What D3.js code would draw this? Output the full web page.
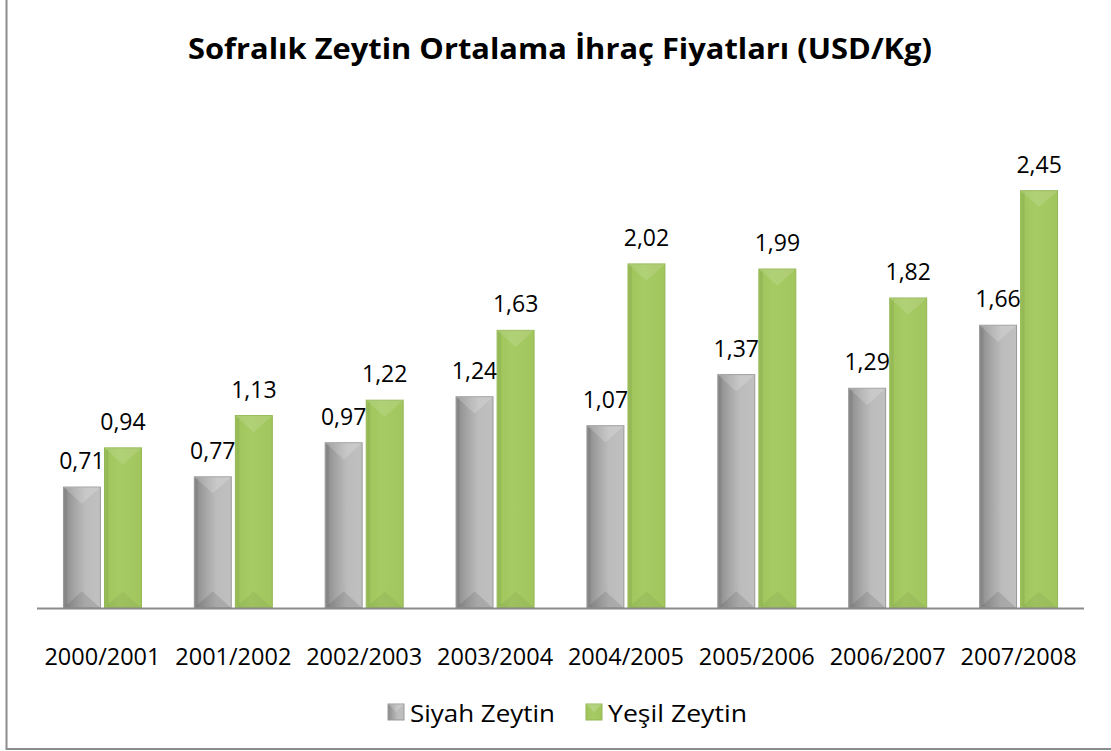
<!DOCTYPE html>
<html>
<head>
<meta charset="utf-8">
<script src="https://cdn.jsdelivr.net/npm/d3@7"></script>
<style>
  body { margin: 0; background: #fff; }
  text { font-family: "Open Sans", "Noto Sans", sans-serif; fill: #000; }
</style>
</head>
<body>
<script>
let years = ["2000/2001", "2001/2002", "2002/2003", "2003/2004", "2004/2005", "2005/2006", "2006/2007", "2007/2008"];
let siyah = [0.71, 0.77, 0.97, 1.24, 1.07, 1.37, 1.29, 1.66];
let yesil = [0.94, 1.13, 1.22, 1.63, 2.02, 1.99, 1.82, 2.45];
let seriesNames = ["Siyah Zeytin", "Yeşil Zeytin"];

let W = 1111, H = 751;
let svg = d3.select("body").append("svg")
    .attr("width", W)
    .attr("height", H);

let defs = svg.append("defs");
// gradients for the beveled bars
let gGray = defs.append("linearGradient").attr("id", "gGray");
gGray.append("stop").attr("offset", "0%").attr("stop-color", "#8a8a8a");
gGray.append("stop").attr("offset", "35%").attr("stop-color", "#a9a9a9");
gGray.append("stop").attr("offset", "60%").attr("stop-color", "#bcbcbc");
gGray.append("stop").attr("offset", "100%").attr("stop-color", "#c0c0c0");
let gGreen = defs.append("linearGradient").attr("id", "gGreen");
gGreen.append("stop").attr("offset", "0%").attr("stop-color", "#9dc45a");
gGreen.append("stop").attr("offset", "40%").attr("stop-color", "#a7cb64");
gGreen.append("stop").attr("offset", "100%").attr("stop-color", "#a2c65e");

let colors = ["url(#gGray)", "url(#gGreen)"];
let edges = ["#999999", "#94b654"];

// frame
svg.append("rect")
    .attr("x", 6.5).attr("y", -5)
    .attr("width", 1110).attr("height", 754)
    .attr("fill", "none")
    .attr("stroke", "#8c8c8c")
    .attr("stroke-width", 2);

svg.append("text")
    .attr("x", 560).attr("y", 59)
    .attr("text-anchor", "middle")
    .attr("font-size", 29)
    .attr("font-weight", "bold")
    .attr("textLength", 744)
    .attr("lengthAdjust", "spacingAndGlyphs")
    .text("Sofralık Zeytin Ortalama İhraç Fiyatları (USD/Kg)");

let x0 = d3.scaleBand().domain(years).range([37, 1084]);
let x1 = d3.scaleBand().domain([0, 1]).range([0, 78]).paddingInner(0.1);
let y = d3.scaleLinear().domain([0, 3]).range([608, 97]);

let groups = svg.selectAll("g.cat")
    .data(years)
    .enter().append("g")
    .attr("class", "cat")
    .attr("transform", d => `translate(${x0(d) + (x0.bandwidth() - 78) / 2},0)`);

let bars = groups.selectAll("g.bar")
    .data((d, i) => [siyah[i], yesil[i]])
    .enter().append("g")
    .attr("class", "bar");

bars.each(function(v, s) {
    let g = d3.select(this);
    let bx = x1(s), bw = x1.bandwidth();
    let top = y(v), bot = y(0);
    let b = bw / 2;
    g.append("rect")
        .attr("x", bx).attr("y", top)
        .attr("width", bw).attr("height", bot - top)
        .attr("fill", colors[s])
        .attr("stroke", edges[s])
        .attr("stroke-width", 1);
    // top bevel
    g.append("path")
        .attr("d", `M${bx},${top}L${bx + bw},${top}L${bx + bw - b},${top + b * 0.9}L${bx + b},${top + b * 0.9}Z`)
        .attr("fill", "#ffffff").attr("opacity", s === 0 ? 0.18 : 0.12);
    // bottom bevel
    g.append("path")
        .attr("d", `M${bx},${bot}L${bx + bw},${bot}L${bx + bw - b},${bot - b * 0.9}L${bx + b},${bot - b * 0.9}Z`)
        .attr("fill", "#000000").attr("opacity", s === 0 ? 0.1 : 0.05);
    // left edge shade
    g.append("rect")
        .attr("x", bx + 1).attr("y", top + 2)
        .attr("width", 3).attr("height", Math.max(0, bot - top - 4))
        .attr("fill", "#000").attr("opacity", 0.06);
    g.append("text")
        .attr("x", bx + bw / 2).attr("y", top - 18)
        .attr("text-anchor", "middle")
        .attr("font-size", 23)
        .text(d3.format(".2f")(v).replace(".", ","));
});

// axis baseline
svg.append("line")
    .attr("x1", 37).attr("x2", 1084)
    .attr("y1", 608.5).attr("y2", 608.5)
    .attr("stroke", "#8c8c8c").attr("stroke-width", 2);

svg.selectAll("text.xl")
    .data(years)
    .enter().append("text")
    .attr("class", "xl")
    .attr("x", d => x0(d) + x0.bandwidth() / 2)
    .attr("y", 665)
    .attr("text-anchor", "middle")
    .attr("font-size", 23)
    .attr("textLength", 116)
    .attr("lengthAdjust", "spacingAndGlyphs")
    .text(d => d);

// legend
let legX = [388, 586];
let leg = svg.selectAll("g.leg")
    .data(seriesNames)
    .enter().append("g")
    .attr("class", "leg")
    .attr("transform", (d, i) => `translate(${legX[i]},704)`);
leg.append("rect")
    .attr("width", 16).attr("height", 16)
    .attr("fill", (d, i) => colors[i])
    .attr("stroke", (d, i) => edges[i]);
leg.append("path")
    .attr("d", "M0,0L16,0L8,8Z")
    .attr("fill", "#fff").attr("opacity", 0.18);
leg.append("text")
    .attr("x", 22).attr("y", 18)
    .attr("font-size", 24)
    .attr("textLength", (d, i) => i === 0 ? 145 : 139)
    .attr("lengthAdjust", "spacingAndGlyphs")
    .text(d => d);
</script>
</body>
</html>
